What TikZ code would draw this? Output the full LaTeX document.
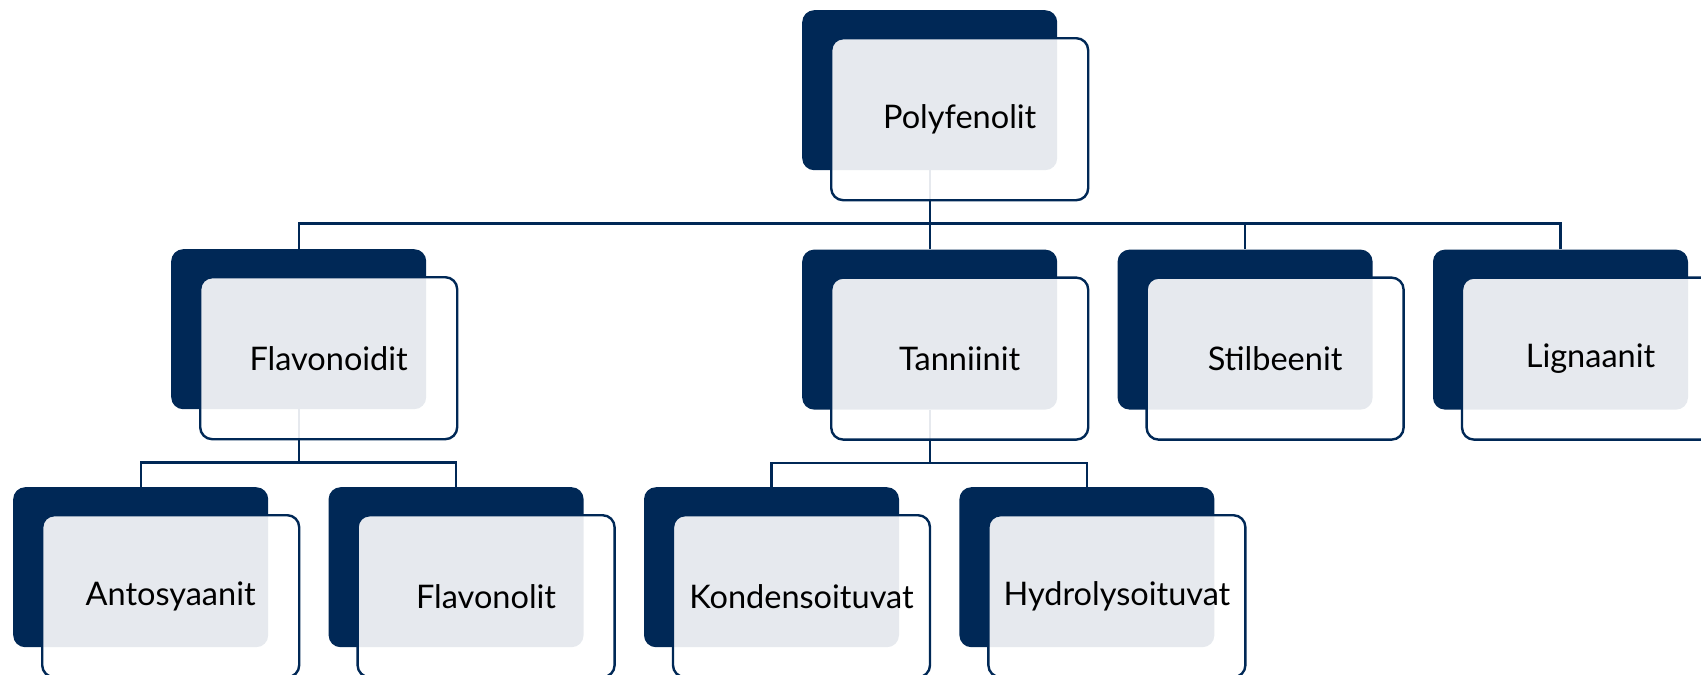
\documentclass[tikz,border=0pt]{standalone}
\usepackage{fontspec}
\setmainfont{Lato}
\usetikzlibrary{positioning,calc}
\definecolor{navy}{RGB}{0,40,86}
\tikzset{back/.style={fill=navy,rounded corners=12pt,minimum width=255pt,
  minimum height=160pt,inner sep=0pt,anchor=north west},
 front/.style={draw=navy,line width=2.4pt,fill=white,fill opacity=0.9,
  text opacity=1,rounded corners=12pt,minimum width=257pt,minimum height=162pt,
  inner sep=0pt,anchor=north west,font=\fontsize{32.5}{38}\selectfont},
 bus/.style={to path={-- ++(0,-53) -| (\tikztotarget)}},
 link/.style={draw=navy,line width=2.4pt}}
\begin{document}
\begin{tikzpicture}[x=1pt,y=1pt]
\useasboundingbox (0,0) rectangle (1701,-675);

\node[back] (poly-b) at (802,-10) {};
\node[back,below=79pt of poly-b] (tann-b) {};
\node[back,right=60pt of tann-b] (stil-b) {};
\node[back,right=60pt of stil-b] (lign-b) {};
\node[back] (flav-b) at (171,-249) {};
\node[back] (anto-b) at (13,-487) {};
\node[back,right=60pt of anto-b] (flvl-b) {};
\node[back,right=60pt of flvl-b] (kond-b) {};
\node[back,right=60pt of kond-b] (hydr-b) {};

\draw[link] (poly-b.south) edge[bus] (flav-b.north) edge[bus] (tann-b.north)
 edge[bus] (stil-b.north) edge[bus] (lign-b.north);
\draw[link] (flav-b.south) edge[bus] (anto-b.north) edge[bus] (flvl-b.north);
\draw[link] (tann-b.south) edge[bus] (kond-b.north) edge[bus] (hydr-b.north);

\node[front] (poly) at ([shift={(28,-27)}]poly-b.north west) {Polyfenolit};
\node[front] (flav) at ([shift={(28,-27)}]flav-b.north west) {Flavonoidit};
\node[front] (tann) at ([shift={(28,-27)}]tann-b.north west) {Tanniinit};
\node[front] (stil) at ([shift={(28,-27)}]stil-b.north west) {Stilbeenit};
\node[front] (lign) at ([shift={(28,-27)}]lign-b.north west) {Lignaanit};
\node[front] (anto) at ([shift={(28,-27)}]anto-b.north west) {Antosyaanit};
\node[front] (flvl) at ([shift={(28,-27)}]flvl-b.north west) {Flavonolit};
\node[front] (kond) at ([shift={(28,-27)}]kond-b.north west) {Kondensoituvat};
\node[front] (hydr) at ([shift={(28,-27)}]hydr-b.north west) {Hydrolysoituvat};
\end{tikzpicture}
\end{document}
